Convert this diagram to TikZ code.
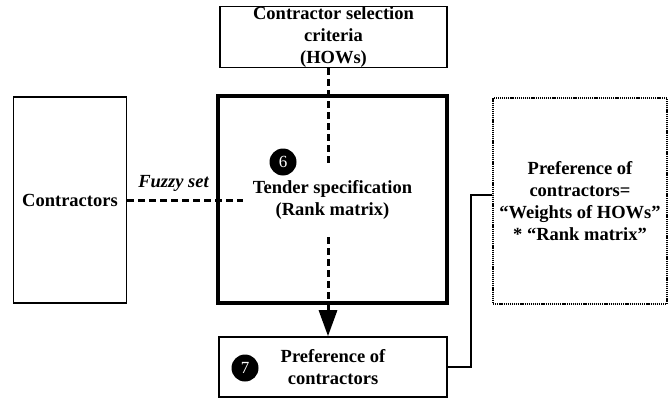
\documentclass[tikz,border=0pt]{standalone}
\usepackage{fontspec}
\setmainfont{Liberation Serif}
\usetikzlibrary{arrows.meta,calc}
\tikzset{
  box/.style={draw,line width=1.6pt,align=center,inner sep=0pt,font=\bfseries\fontsize{18.5}{22}\selectfont},
  bigbox/.style={draw,line width=4pt,align=center,inner sep=0pt,font=\bfseries\fontsize{18.5}{22}\selectfont},
  dotbox/.style={draw,line width=1.6pt,dash pattern=on 1.2pt off 0.9pt,align=center,inner sep=0pt,font=\bfseries\fontsize{18.5}{22}\selectfont},
  num/.style={circle,fill=black,text=white,inner sep=0pt,minimum size=27pt,font=\fontsize{17}{17}\selectfont},
  flow/.style={line width=3pt,dash pattern=on 7pt off 4pt},
  link/.style={line width=1.6pt}
}
\begin{document}
\begin{tikzpicture}[x=1pt,y=-1pt]
\useasboundingbox (0,0) rectangle (669,401);
\node[box,minimum width=227pt,minimum height=61pt] (crit) at (333.5,37) {Contractor selection\\criteria\\(HOWs)};
\node[box,minimum width=113pt,minimum height=206pt] (contr) at (70,200) {Contractors};
\node[bigbox,minimum width=229pt,minimum height=206pt] (tender) at (332.5,199.5) {Tender specification\\(Rank matrix)};
\node[num] (n6) at (283,162) {6};
\node[box,minimum width=228pt,minimum height=60pt] (pref) at (333,367) {Preference of\\contractors};
\node[num] (n7) at (245,368) {7};
\node[dotbox,minimum width=174pt,minimum height=206pt] (formula) at (580,201) {Preference of\\contractors=\\“Weights of HOWs”\\* “Rank matrix”};
\coordinate (c1) at (328,165);
\coordinate (c2) at (328,237);
\coordinate (c3) at (243,200);
\coordinate (c4) at (471,195);
\draw[flow] (crit.south -| c1) -- (c1);
\draw[flow,-{Triangle[length=26pt,width=18pt]}] (c2) -- (c2 |- pref.north);
\draw[flow] (contr.east) -- (c3) node[pos=0.4,above=4pt,font=\bfseries\itshape\fontsize{18.5}{22}\selectfont] (fz) {Fuzzy set};
\draw[link] (pref.east) -| (c4) -- (c4 -| formula.west);
\end{tikzpicture}
\end{document}
